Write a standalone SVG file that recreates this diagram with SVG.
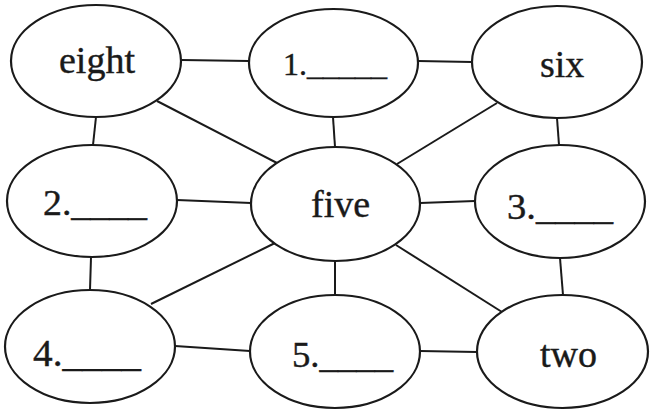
<svg xmlns="http://www.w3.org/2000/svg" width="651" height="413" viewBox="0 0 651 413">
<style>
.n ellipse{fill:#fff;stroke:#1a1a1a;stroke-width:2.2}
.c line{stroke:#1a1a1a;stroke-width:2}
text{font-family:"Liberation Serif","Times New Roman",serif;fill:#1a1a1a;stroke:#1a1a1a;stroke-width:0.4}
.w{font-size:38px}
.b{font-size:36px}
</style>
<rect width="651" height="413" fill="#fff"/>
<g id="connectors" class="c">
<line x1="182" y1="60" x2="249" y2="61"/>
<line x1="157" y1="101" x2="277" y2="163"/>
<line x1="96" y1="117" x2="93" y2="145"/>
<line x1="418" y1="61" x2="472" y2="62"/>
<line x1="333" y1="117" x2="335" y2="147"/>
<line x1="497" y1="103" x2="397" y2="164"/>
<line x1="557" y1="118" x2="559" y2="145"/>
<line x1="177" y1="200" x2="251" y2="203"/>
<line x1="420" y1="203" x2="475" y2="201"/>
<line x1="275" y1="243" x2="151" y2="304"/>
<line x1="91" y1="257" x2="90" y2="290"/>
<line x1="335" y1="260" x2="335" y2="295"/>
<line x1="396" y1="245" x2="502" y2="312"/>
<line x1="560" y1="258" x2="563" y2="295"/>
<line x1="175" y1="346" x2="250" y2="351"/>
<line x1="420" y1="351" x2="477" y2="352"/>
</g>
<g id="eight" class="n"><ellipse cx="96" cy="61" rx="85" ry="56"/><text class="w" x="59" y="73">eight</text></g>
<g id="blank1" class="n"><ellipse cx="333.5" cy="63" rx="84.5" ry="54"/><text x="283" y="75" font-size="32" textLength="104" lengthAdjust="spacingAndGlyphs">1._____</text></g>
<g id="six" class="n"><ellipse cx="557" cy="62" rx="85" ry="56"/><text class="w" x="540" y="77">six</text></g>
<g id="blank2" class="n"><ellipse cx="92" cy="201" rx="85" ry="56"/><text class="b" x="43" y="215" textLength="104" lengthAdjust="spacingAndGlyphs">2.____</text></g>
<g id="five" class="n"><ellipse cx="335.5" cy="204" rx="84.5" ry="57"/><text class="w" x="311" y="217">five</text></g>
<g id="blank3" class="n"><ellipse cx="560" cy="201.5" rx="85" ry="56.5"/><text class="b" x="507" y="219" textLength="106" lengthAdjust="spacingAndGlyphs">3.____</text></g>
<g id="blank4" class="n"><ellipse cx="90" cy="346.5" rx="85" ry="56.5"/><text x="33" y="366" font-size="37" textLength="108" lengthAdjust="spacingAndGlyphs">4.____</text></g>
<g id="blank5" class="n"><ellipse cx="335" cy="351.5" rx="85" ry="56.5"/><text class="b" x="292" y="367" textLength="101" lengthAdjust="spacingAndGlyphs">5.____</text></g>
<g id="two" class="n"><ellipse cx="562.5" cy="351.5" rx="85.5" ry="56.5"/><text class="w" x="540" y="367">two</text></g>
</svg>
